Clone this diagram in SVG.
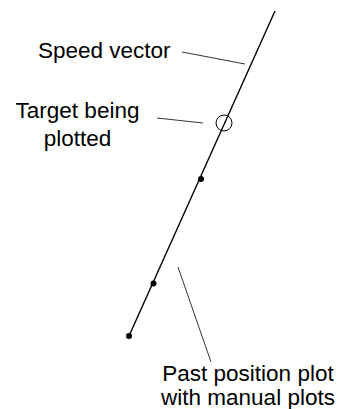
<svg xmlns="http://www.w3.org/2000/svg" width="347" height="409" viewBox="0 0 347 409">
<style>
.lbl{font-family:"Liberation Sans",Arial,sans-serif;font-size:22.5px;fill:#000}
.ln{stroke:#000;fill:none}
</style>
<rect width="347" height="409" fill="#fff"/>
<g id="connectors">
<line class="ln" x1="275" y1="11" x2="129" y2="336" stroke-width="1.4"/>
<line class="ln" x1="182" y1="52" x2="245" y2="64" stroke-width="0.8"/>
<line class="ln" x1="157" y1="118" x2="203" y2="123" stroke-width="0.8"/>
<line class="ln" x1="178" y1="267" x2="211" y2="362" stroke-width="0.8"/>
</g>
<g id="target"><circle class="ln" cx="224" cy="123" r="8" stroke-width="1"/></g>
<g id="plot1"><circle cx="201" cy="179" r="3" fill="#000"/></g>
<g id="plot2"><circle cx="153.5" cy="283.5" r="3" fill="#000"/></g>
<g id="plot3"><circle cx="129" cy="336" r="3" fill="#000"/></g>
<g id="label-speed"><text class="lbl" x="38" y="57.5">Speed vector</text></g>
<g id="label-target"><text class="lbl" x="77.5" y="118" text-anchor="middle">Target being</text><text class="lbl" x="77.5" y="146" text-anchor="middle">plotted</text></g>
<g id="label-past"><text class="lbl" x="248" y="380.5" text-anchor="middle">Past position plot</text><text class="lbl" x="248" y="405" text-anchor="middle">with manual plots</text></g>
</svg>
